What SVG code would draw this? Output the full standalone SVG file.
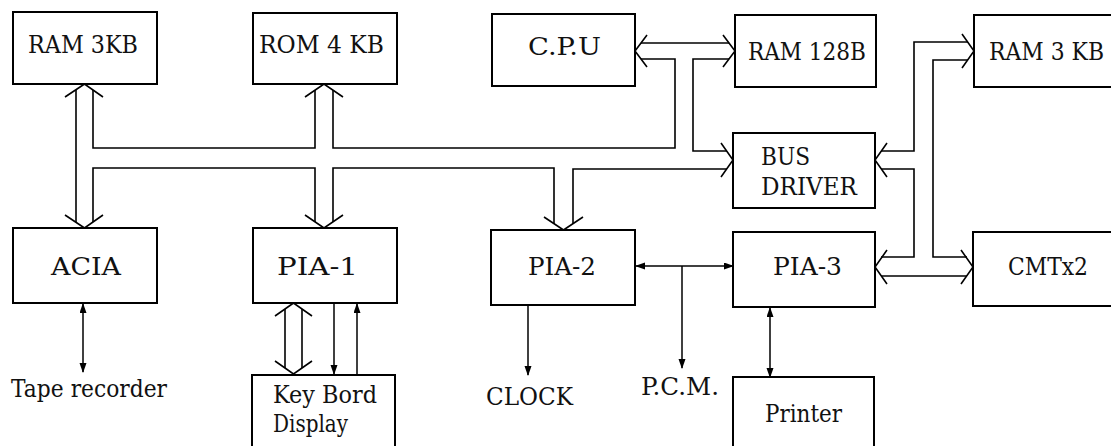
<svg xmlns="http://www.w3.org/2000/svg" width="1111" height="446" viewBox="0 0 1111 446">
<style>
.box{fill:#fff;stroke:#000;stroke-width:2}
.t{font-family:'DejaVu Serif','Liberation Serif',serif;font-size:24px;fill:#111}
.bus{fill:none;stroke:#000;stroke-width:1.6}
.thin{fill:none;stroke:#000;stroke-width:1.5}
</style>
<defs>
<marker id="ah" markerUnits="userSpaceOnUse" markerWidth="10" markerHeight="8" refX="9" refY="3.5" orient="auto-start-reverse">
<path d="M0,0 L10,3.5 L0,7 z" fill="#000"/>
</marker>
</defs>
<rect width="1111" height="446" fill="#fff"/>
<g id="connectors">
<polyline class="bus" points="65,97 84.5,84 103,97"/>
<polyline class="bus" points="65,215 84.5,228 103,215"/>
<line class="bus" x1="76" y1="90" x2="76" y2="222"/>
<polyline class="bus" points="93,90 93,148 315,148 315,90"/>
<polyline class="bus" points="93,222 93,168 315,168 315,222"/>
<polyline class="bus" points="305,97 324,84 343,97"/>
<polyline class="bus" points="305,215 324,228 343,215"/>
<polyline class="bus" points="333,90 333,148 675,148 675,59 641,59"/>
<polyline class="bus" points="333,222 333,168 554,168 554,224"/>
<polyline class="bus" points="544,217 563.5,230 583,217"/>
<polyline class="bus" points="573,224 573,169 727,169"/>
<polyline class="bus" points="647,35 635,51 647,67"/>
<polyline class="bus" points="723,35 735,51 723,67"/>
<line class="bus" x1="641" y1="43" x2="729" y2="43"/>
<polyline class="bus" points="729,59 693,59 693,151 727,151"/>
<polyline class="bus" points="721,143 733,160 721,177"/>
<polyline class="bus" points="887,143 875,160 887,177"/>
<polyline class="bus" points="881,151 914,151 914,42 968,42"/>
<polyline class="bus" points="881,169 914,169 914,257 881,257"/>
<polyline class="bus" points="968,60 933,60 933,257 967,257"/>
<polyline class="bus" points="962,34 974,51 962,68"/>
<polyline class="bus" points="887,250 875,267 887,284"/>
<polyline class="bus" points="961,250 973,267 961,284"/>
<line class="bus" x1="881" y1="276" x2="967" y2="276"/>
<polyline class="bus" points="275,316 293.5,303 312,316"/>
<polyline class="bus" points="275,361 293.5,374 312,361"/>
<line class="bus" x1="285" y1="309" x2="285" y2="368"/>
<line class="bus" x1="302" y1="309" x2="302" y2="368"/>
<line class="thin" x1="83" y1="304" x2="83" y2="372" marker-start="url(#ah)" marker-end="url(#ah)"/>
<line class="thin" x1="334" y1="303" x2="334" y2="374" marker-end="url(#ah)"/>
<line class="thin" x1="357" y1="374" x2="357" y2="304" marker-end="url(#ah)"/>
<line class="thin" x1="528" y1="305" x2="528" y2="375" marker-end="url(#ah)"/>
<line class="thin" x1="636" y1="266" x2="733" y2="266" marker-start="url(#ah)" marker-end="url(#ah)"/>
<line class="thin" x1="682" y1="266" x2="682" y2="368" marker-end="url(#ah)"/>
<line class="thin" x1="770" y1="308" x2="770" y2="377" marker-start="url(#ah)" marker-end="url(#ah)"/>
</g>
<g id="ram3kb"><rect class="box" x="13" y="12" width="144" height="72"/><text class="t" x="28" y="53" textLength="110" lengthAdjust="spacingAndGlyphs">RAM 3KB</text></g>
<g id="rom4kb"><rect class="box" x="253" y="13" width="144" height="71"/><text class="t" x="259" y="53" textLength="125" lengthAdjust="spacingAndGlyphs">ROM 4 KB</text></g>
<g id="cpu"><rect class="box" x="492" y="14" width="143" height="72"/><text class="t" x="528" y="55" textLength="73" lengthAdjust="spacingAndGlyphs">C.P.U</text></g>
<g id="ram128b"><rect class="box" x="735" y="15" width="141" height="72"/><text class="t" x="748" y="60" textLength="118" lengthAdjust="spacingAndGlyphs">RAM 128B</text></g>
<g id="ram3kb-r"><rect class="box" x="974" y="15" width="150" height="72"/><text class="t" x="989" y="60" textLength="115" lengthAdjust="spacingAndGlyphs">RAM 3 KB</text></g>
<g id="busdriver"><rect class="box" x="733" y="133" width="142" height="75"/><text class="t" x="761" y="165" textLength="49" lengthAdjust="spacingAndGlyphs">BUS</text><text class="t" x="761" y="195" textLength="96" lengthAdjust="spacingAndGlyphs">DRIVER</text></g>
<g id="acia"><rect class="box" x="13" y="228" width="144" height="75"/><text class="t" x="51" y="275" textLength="70" lengthAdjust="spacingAndGlyphs">ACIA</text></g>
<g id="pia1"><rect class="box" x="253" y="228" width="144" height="75"/><text class="t" x="277" y="275" textLength="81" lengthAdjust="spacingAndGlyphs">PIA-1</text></g>
<g id="pia2"><rect class="box" x="491" y="230" width="144" height="75"/><text class="t" x="528" y="275" textLength="68" lengthAdjust="spacingAndGlyphs">PIA-2</text></g>
<g id="pia3"><rect class="box" x="733" y="232" width="142" height="75"/><text class="t" x="773" y="275" textLength="69" lengthAdjust="spacingAndGlyphs">PIA-3</text></g>
<g id="cmtx2"><rect class="box" x="973" y="232" width="150" height="74"/><text class="t" x="1008" y="275" textLength="80" lengthAdjust="spacingAndGlyphs">CMTx2</text></g>
<g id="keybord"><rect class="box" x="252" y="375" width="143" height="80"/><text class="t" x="273" y="403" textLength="104" lengthAdjust="spacingAndGlyphs">Key Bord</text><text class="t" x="273" y="432" textLength="75" lengthAdjust="spacingAndGlyphs">Display</text></g>
<g id="printer"><rect class="box" x="733" y="377" width="141" height="80"/><text class="t" x="765" y="422" textLength="77" lengthAdjust="spacingAndGlyphs">Printer</text></g>
<g id="tape"><text class="t" x="11" y="397" textLength="156" lengthAdjust="spacingAndGlyphs">Tape recorder</text></g>
<g id="clock"><text class="t" x="486" y="405" textLength="87" lengthAdjust="spacingAndGlyphs">CLOCK</text></g>
<g id="pcm"><text class="t" x="641" y="395" textLength="78" lengthAdjust="spacingAndGlyphs">P.C.M.</text></g>
</svg>
